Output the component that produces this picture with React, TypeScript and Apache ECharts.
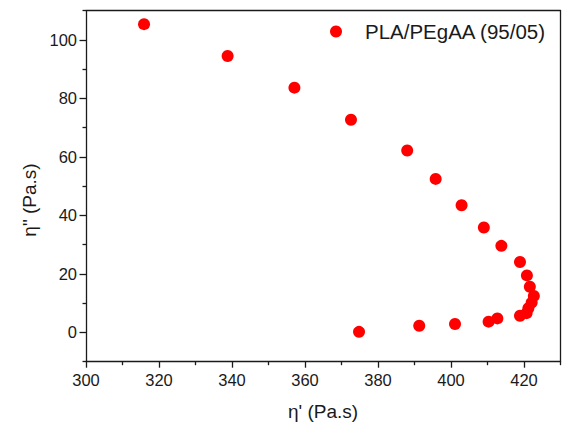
import React, { useEffect, useRef } from "react";
import * as echarts from "echarts";

const seriesName = "PLA/PEgAA (95/05)";
const etaPrime = [315.9, 338.8, 357.1, 372.6, 388.0, 395.8, 402.9, 409.0, 413.8, 418.9, 420.8, 421.6, 422.7, 422.1, 421.2, 420.7, 418.9, 412.7, 410.3, 401.1, 391.3, 374.8];
const etaDoublePrime = [105.4, 94.5, 83.7, 72.7, 62.2, 52.5, 43.5, 35.9, 29.6, 24.1, 19.5, 15.6, 12.5, 10.2, 8.3, 6.6, 5.7, 4.8, 3.7, 2.9, 2.3, 0.2];
const xMajorTicks = [300, 320, 340, 360, 380, 400, 420];
const xMinorTicks = [310, 330, 350, 370, 390, 410, 430];
const yMajorTicks = [0, 20, 40, 60, 80, 100];
const yMinorTicks = [-10, 10, 30, 50, 70, 90, 110];
const xTitle = "\u03B7' (Pa.s)";
const yTitle = '\u03B7" (Pa.s)';

const FONT = "'Liberation Sans', Arial, sans-serif";
const AXIS_COLOR = "#1a1a1a";

export default function App() {
  const ref = useRef<HTMLDivElement>(null);
  useEffect(() => {
    if (!ref.current) return;
    const chart = echarts.init(ref.current, null, { renderer: "svg" });
    const grid = { left: 86, right: 2.5, top: 10.7, bottom: 66.3, containLabel: false };
    const baseLine = { show: true, onZero: false, lineStyle: { color: AXIS_COLOR, width: 1.3 } };
    const hiddenLine = { show: false, onZero: false };
    const tickStyle = { color: AXIS_COLOR, width: 1.3 };
    chart.setOption({
      animation: false,
      backgroundColor: "#ffffff",
      grid,
      legend: {
        left: 330,
        top: 21,
        padding: 0,
        itemWidth: 48,
        itemHeight: 12,
        icon: "circle",
        textStyle: { fontFamily: FONT, fontSize: 20.5, color: "#1a1a1a" },
        data: [seriesName],
      },
      xAxis: [
        {
          type: "value",
          min: 300,
          max: 430,
          position: "bottom",
          axisLine: baseLine,
          axisTick: { show: true, customValues: xMajorTicks, length: 6, inside: false, lineStyle: tickStyle },
          axisLabel: { customValues: xMajorTicks, fontFamily: FONT, fontSize: 16.5, color: "#1a1a1a", margin: 10 },
          splitLine: { show: false },
        },
        {
          type: "value",
          min: 300,
          max: 430,
          position: "bottom",
          axisLine: hiddenLine,
          axisTick: { show: true, customValues: xMinorTicks, length: 3.5, inside: false, lineStyle: tickStyle },
          axisLabel: { show: false },
          splitLine: { show: false },
        },
        {
          type: "value",
          min: 300,
          max: 430,
          position: "top",
          axisLine: baseLine,
          axisTick: { show: false },
          axisLabel: { show: false },
          splitLine: { show: false },
        },
      ],
      yAxis: [
        {
          type: "value",
          min: -10,
          max: 110,
          position: "left",
          axisLine: baseLine,
          axisTick: { show: true, customValues: yMajorTicks, length: 6.5, inside: false, lineStyle: tickStyle },
          axisLabel: { customValues: yMajorTicks, fontFamily: FONT, fontSize: 16.5, color: "#1a1a1a", margin: 9 },
          splitLine: { show: false },
        },
        {
          type: "value",
          min: -10,
          max: 110,
          position: "left",
          axisLine: hiddenLine,
          axisTick: { show: true, customValues: yMinorTicks, length: 3.5, inside: false, lineStyle: tickStyle },
          axisLabel: { show: false },
          splitLine: { show: false },
        },
        {
          type: "value",
          min: -10,
          max: 110,
          position: "right",
          axisLine: baseLine,
          axisTick: { show: false },
          axisLabel: { show: false },
          splitLine: { show: false },
        },
      ],
      graphic: [
        {
          type: "text",
          x: 323,
          y: 411,
          style: { text: xTitle, font: `19px ${FONT}`, fill: "#1a1a1a", textAlign: "center", textVerticalAlign: "middle" },
        },
        {
          type: "text",
          x: 29,
          y: 200,
          rotation: Math.PI / 2,
          style: { text: yTitle, font: `19px ${FONT}`, fill: "#1a1a1a", textAlign: "center", textVerticalAlign: "middle" },
        },
      ],
      series: [
        {
          name: seriesName,
          type: "scatter",
          xAxisIndex: 0,
          yAxisIndex: 0,
          symbol: "circle",
          symbolSize: 12,
          itemStyle: { color: "#ff0000", opacity: 1 },
          data: etaPrime.map((x, i) => [x, etaDoublePrime[i]]),
        },
      ],
    });
    return () => chart.dispose();
  }, []);
  return <div ref={ref} style={{ position: "fixed", left: 0, top: 0, width: 563, height: 428 }} />;
}
